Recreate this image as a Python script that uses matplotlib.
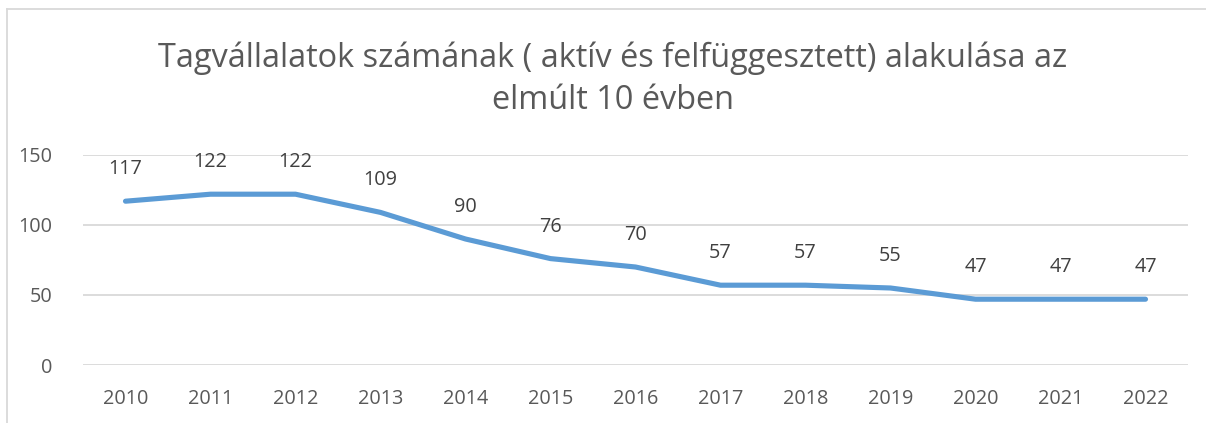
import matplotlib
matplotlib.use("Agg")
import matplotlib.pyplot as plt
from matplotlib.lines import Line2D

years = ["2010", "2011", "2012", "2013", "2014", "2015", "2016",
         "2017", "2018", "2019", "2020", "2021", "2022"]
values = [117, 122, 122, 109, 90, 76, 70, 57, 57, 55, 47, 47, 47]
yticks = [0, 50, 100, 150]
title = "Tagvállalatok számának ( aktív és felfüggesztett) alakulása az\nelmúlt 10 évben"

W, H = 1206, 423
fig = plt.figure(figsize=(W / 100, H / 100), dpi=100)
plt.rcParams['font.family'] = ['Open Sans', 'DejaVu Sans']
txt = '#595959'
grid = '#D9D9D9'

ax = fig.add_axes([83 / W, 1 - 365 / H, (1188 - 83) / W, (365 - 155) / H])
x = list(range(len(years)))
ax.plot(x, values, color='#5B9BD5', lw=3.7, solid_capstyle='round', solid_joinstyle='round', zorder=3)
for xi, v in zip(x, values):
    ax.annotate(str(v), (xi, v), xytext=(0, 32), textcoords='offset pixels',
                ha='center', va='center', fontsize=14.3, color='#404040')
ax.set_xlim(-0.5, len(years) - 0.5)
ax.set_ylim(0, 150)
ax.set_yticks(yticks)
ax.set_xticks(x)
ax.set_xticklabels(years)
ax.tick_params(axis='both', length=0, labelsize=14.3, labelcolor=txt)
ax.tick_params(axis='y', pad=22)
ax.tick_params(axis='x', pad=17)
ax.grid(axis='y', color=grid, lw=1.3)
ax.set_axisbelow(True)
for s in ax.spines.values():
    s.set_visible(False)

fig.text(613 / W, 1 - 79 / H, title, ha='center', va='center', fontsize=23.4,
         color=txt, linespacing=1.35, fontweight='normal')

fig.add_artist(Line2D([7 / W, 1], [1 - 9 / H, 1 - 9 / H], color=grid, lw=1.3, transform=fig.transFigure))
fig.add_artist(Line2D([7 / W, 7 / W], [0, 1 - 9 / H], color=grid, lw=1.3, transform=fig.transFigure))

fig.savefig("out.png", dpi=100)
